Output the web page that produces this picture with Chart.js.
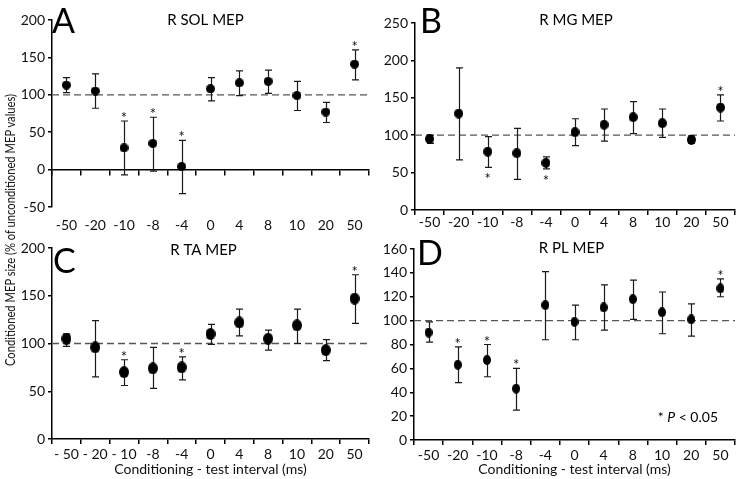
<!DOCTYPE html>
<html>
<head>
<meta charset="utf-8">
<script src="https://cdn.jsdelivr.net/npm/chart.js@4.4.1/dist/chart.umd.min.js"></script>
<style>
  body { margin: 0; background: #fff; width: 741px; height: 479px; overflow: hidden; position: relative; font-family: Lato, sans-serif; }
  canvas { position: absolute; }
  #ytitle { position: absolute; left: 10px; top: 230px; transform: translate(-50%, -50%) rotate(-90deg) scaleX(0.83); white-space: nowrap; font-size: 13.5px; color: #111; }
</style>
</head>
<body>
<canvas id="chartA" width="375" height="232" style="left:0;top:0"></canvas>
<canvas id="chartB" width="378" height="232" style="left:363px;top:0"></canvas>
<canvas id="chartC" width="375" height="249" style="left:0;top:230px"></canvas>
<canvas id="chartD" width="378" height="249" style="left:363px;top:230px"></canvas>
<div id="ytitle">Conditioned MEP size (% of unconditioned MEP values)</div>
<script>
// Conditioning - test intervals (ms)
const intervals = ["-50", "-20", "-10", "-8", "-4", "0", "4", "8", "10", "20", "50"];
const intervalsTA = ["- 50", "- 20", "- 10", "-8", "-4", "0", "4", "8", "10", "20", "50"];

// R SOL MEP (% of unconditioned), mean with upper / lower error bar ends
const solMean = [113, 105, 29, 35, 4, 108, 116, 118, 99, 77, 141];
const solHi = [123, 128, 65, 70, 39, 123, 132, 133, 118, 90, 160];
const solLo = [103, 82, -7, -2, -32, 92, 99, 102, 79, 63, 120];
const solSig = [0, 0, 1, 1, 1, 0, 0, 0, 0, 0, 1]; // 1 = star above, -1 = star below

// R MG MEP
const mgMean = [95, 129, 78, 76, 63, 104, 114, 124, 116, 94, 137];
const mgHi = [100, 190, 98, 109, 71, 122, 135, 145, 135, 99, 154];
const mgLo = [89, 67, 57, 41, 55, 86, 92, 102, 97, 89, 119];
const mgSig = [0, 0, -1, 0, -1, 0, 0, 0, 0, 0, 1];

// R TA MEP
const taMean = [105, 96, 70, 74, 75, 110, 122, 105, 119, 93, 147];
const taHi = [110, 124, 83, 96, 86, 120, 136, 114, 136, 104, 172];
const taLo = [97, 65, 56, 53, 62, 99, 108, 93, 100, 82, 121];
const taSig = [0, 0, 1, 0, 1, 0, 0, 0, 0, 0, 1];

// R PL MEP
const plMean = [90, 63, 67, 43, 113, 99, 111, 118, 107, 101, 127];
const plHi = [99, 78, 80, 60, 141, 113, 130, 134, 124, 114, 135];
const plLo = [82, 48, 53, 25, 84, 84, 92, 101, 89, 87, 120];
const plSig = [0, 1, 1, 1, 0, 0, 0, 0, 0, 0, 1];

const FONT = "Lato, 'Open Sans', sans-serif";

// filled ellipse used as the point marker (the original figure is slightly stretched)
function makeDot(w, h) {
  var c = document.createElement("canvas");
  c.width = w;
  c.height = h;
  var g = c.getContext("2d");
  g.fillStyle = "#000";
  g.beginPath();
  g.ellipse(w / 2, h / 2, w / 2, h / 2, 0, 0, Math.PI * 2);
  g.fill();
  return c;
}

// reference line, error bars, stars, panel letter and title
const mepExtras = {
  id: "mepExtras",
  beforeDatasetsDraw(chart, args, opts) {
    const ctx = chart.ctx;
    const area = chart.chartArea;
    const x = chart.scales.x;
    const y = chart.scales.y;
    ctx.save();
    ctx.strokeStyle = "#555";
    ctx.lineWidth = 1.3;
    ctx.setLineDash([7, 4]);
    const yRef = y.getPixelForValue(100);
    ctx.beginPath();
    ctx.moveTo(area.left, yRef);
    ctx.lineTo(area.right, yRef);
    ctx.stroke();
    ctx.setLineDash([]);
    ctx.strokeStyle = "#1a1a1a";
    ctx.lineWidth = 1.2;
    opts.hi.forEach((h, i) => {
      const px = Math.round(x.getPixelForValue(i)) + 0.5;
      const top = y.getPixelForValue(h);
      const bot = y.getPixelForValue(opts.lo[i]);
      ctx.beginPath();
      ctx.moveTo(px, top);
      ctx.lineTo(px, bot);
      ctx.moveTo(px - 3.5, top);
      ctx.lineTo(px + 3.5, top);
      ctx.moveTo(px - 3.5, bot);
      ctx.lineTo(px + 3.5, bot);
      ctx.stroke();
    });
    ctx.restore();
  },
  afterDatasetsDraw(chart, args, opts) {
    const ctx = chart.ctx;
    const area = chart.chartArea;
    const x = chart.scales.x;
    const y = chart.scales.y;
    ctx.save();
    ctx.fillStyle = "#111";
    ctx.textAlign = "center";
    ctx.textBaseline = "alphabetic";
    ctx.font = "15px " + FONT;
    opts.sig.forEach((s, i) => {
      if (!s) return;
      const px = x.getPixelForValue(i);
      const cy = s > 0 ? y.getPixelForValue(opts.hi[i]) - 7 : y.getPixelForValue(opts.lo[i]) + 8;
      ctx.fillText("*", px, cy + 9);
    });
    // panel letter
    ctx.fillStyle = "#000";
    ctx.textAlign = "left";
    ctx.font = "34px " + FONT;
    ctx.fillText(opts.letter, area.left + opts.letterDx, area.top + opts.letterDy);
    // panel title
    ctx.textAlign = "center";
    ctx.font = "15px " + FONT;
    ctx.fillText(opts.title, (area.left + area.right) / 2 + opts.titleDx, area.top + opts.titleDy);
    // significance note
    if (opts.note) {
      ctx.textAlign = "left";
      const parts = [["* ", "14px " + FONT], ["P", "italic 14px " + FONT], [" < 0.05", "14px " + FONT]];
      let w = 0;
      parts.forEach((p) => { ctx.font = p[1]; w += ctx.measureText(p[0]).width; });
      let tx = area.right - 17 - w;
      parts.forEach((p) => {
        ctx.font = p[1];
        ctx.fillText(p[0], tx, area.bottom - 18);
        tx += ctx.measureText(p[0]).width;
      });
    }
    ctx.restore();
  },
};

function yAxis(min, max, step, width) {
  return {
    min: min,
    max: max,
    ticks: { stepSize: step, color: "#111", font: { family: FONT, size: 14 }, padding: 3 },
    grid: { drawOnChartArea: false, tickLength: 4, color: "#000", lineWidth: 1.5 },
    border: { color: "#000", width: 1.5 },
    afterFit: (s) => { s.width = width; },
  };
}

function xAxis(height, padding, withTitle) {
  return {
    type: "category",
    offset: true,
    ticks: { color: "#111", font: { family: FONT, size: 14 }, padding: padding, maxRotation: 0, autoSkip: false },
    grid: { offset: true, drawOnChartArea: false, tickLength: 5, color: "#000", lineWidth: 1.5 },
    border: { color: "#000", width: 1.5 },
    title: {
      display: withTitle,
      text: "Conditioning - test interval (ms)",
      color: "#111",
      font: { family: FONT, size: 14 },
      padding: { top: 0, bottom: 1 },
    },
    afterFit: (s) => { s.height = height; },
  };
}

function makePanel(id, labels, mean, hi, lo, sig, p) {
  var scales = { x: p.x, y: p.y };
  if (p.x0) scales.x0 = p.x0;
  return new Chart(document.getElementById(id), {
    type: "line",
    data: {
      labels: labels,
      datasets: [
        {
          data: mean,
          showLine: false,
          pointStyle: makeDot(p.dotW, p.dotH),
          pointRadius: 5,
          pointHoverRadius: 5,
        },
      ],
    },
    options: {
      responsive: false,
      animation: false,
      events: [],
      layout: { padding: { top: p.top, right: p.right, left: 0, bottom: 0 } },
      scales: scales,
      plugins: {
        legend: { display: false },
        tooltip: { enabled: false },
        mepExtras: Object.assign({ hi: hi, lo: lo, sig: sig }, p.extras),
      },
    },
    plugins: [mepExtras],
  });
}

// A: x axis line sits at 0, the labels stay below the plot
var xA = xAxis(25, 2, false);
xA.grid = { display: false };
xA.border = { display: false };
var x0A = xAxis(0, 0, false);
x0A.position = { y: 0 };
x0A.ticks = { display: false };
delete x0A.afterFit;

makePanel("chartA", intervals, solMean, solHi, solLo, solSig, {
  top: 20, right: 3, dotW: 9, dotH: 9,
  x: xA, x0: x0A, y: yAxis(-50, 200, 50, 52),
  extras: { letter: "A", letterDx: 0, letterDy: 13, title: "R SOL MEP", titleDx: -5, titleDy: 5 },
});

makePanel("chartB", intervals, mgMean, mgHi, mgLo, mgSig, {
  top: 23, right: 4, dotW: 9, dotH: 10,
  x: xAxis(22, -1, false), y: yAxis(0, 250, 50, 52),
  extras: { letter: "B", letterDx: 5, letterDy: 10, title: "R MG MEP", titleDx: 1, titleDy: 2 },
});

makePanel("chartC", intervalsTA, taMean, taHi, taLo, taSig, {
  top: 18, right: 3, dotW: 10, dotH: 12,
  x: xAxis(40, 2, true), y: yAxis(0, 200, 50, 52),
  extras: { letter: "C", letterDx: 1, letterDy: 25, title: "R TA MEP", titleDx: -7, titleDy: 7 },
});

makePanel("chartD", intervals, plMean, plHi, plLo, plSig, {
  top: 19, right: 6, dotW: 8, dotH: 10,
  x: xAxis(39, 2, true), y: yAxis(0, 160, 20, 51),
  extras: { letter: "D", letterDx: 3, letterDy: 16, title: "R PL MEP", titleDx: -3, titleDy: 4, note: true },
});
</script>
</body>
</html>
